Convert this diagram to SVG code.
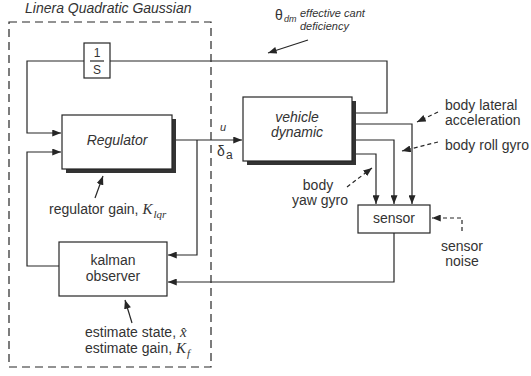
<svg xmlns="http://www.w3.org/2000/svg" width="531" height="376" viewBox="0 0 531 376">
<defs>
<style>
.ln{fill:none;stroke:#262626;stroke-width:1.2}
.ds{fill:none;stroke:#262626;stroke-width:1.2;stroke-dasharray:4 3}
.box{fill:#fff;stroke:#262626;stroke-width:1.2}
.sh{fill:#333;stroke:none}
.t{font-family:"Liberation Sans",Arial,sans-serif;font-size:14px;fill:#333}
.it{font-style:italic}
.c{text-anchor:middle}
.m{font-family:"Liberation Serif","Times New Roman",serif;font-style:italic;fill:#333}
</style>
<marker id="ar" viewBox="0 0 10 8" refX="10" refY="4" markerWidth="9" markerHeight="7" markerUnits="userSpaceOnUse" orient="auto">
<path d="M0,0 L10,4 L0,8 z" fill="#262626"/>
</marker>
</defs>
<rect width="531" height="376" fill="#fff"/>

<g id="lqg-boundary">
<rect x="9" y="22" width="202" height="345" fill="none" stroke="#262626" stroke-width="1.2" stroke-dasharray="8 5"/>
<text class="t it" x="25" y="13">Linera Quadratic Gaussian</text>
</g>

<g id="connectors">
<polyline class="ln" points="356,113 387,113 387,61 27,61 27,133 61,133" marker-end="url(#ar)"/>
<polyline class="ln" points="59,266 27,266 27,152 61,152" marker-end="url(#ar)"/>
<line class="ln" x1="176" y1="140" x2="242" y2="140" marker-end="url(#ar)"/>
<polyline class="ln" points="197,140 197,255 168,255" marker-end="url(#ar)"/>
<polyline class="ln" points="356,124 412,124 412,204" marker-end="url(#ar)"/>
<polyline class="ln" points="356,140 394,140 394,204" marker-end="url(#ar)"/>
<polyline class="ln" points="356,154 376,154 376,204" marker-end="url(#ar)"/>
<polyline class="ln" points="394,233 394,282 168,282" marker-end="url(#ar)"/>
<polyline class="ds" points="462,231 462,218 432,218" marker-end="url(#ar)"/>
<line class="ln" x1="308" y1="40" x2="268" y2="53" marker-end="url(#ar)"/>
<line class="ds" x1="438" y1="112" x2="417" y2="122" marker-end="url(#ar)"/>
<line class="ds" x1="438" y1="142" x2="402" y2="151" marker-end="url(#ar)"/>
<line class="ds" x1="347" y1="187" x2="372" y2="168" marker-end="url(#ar)"/>
<line class="ln" x1="95" y1="198" x2="103" y2="176" marker-end="url(#ar)"/>
<line class="ln" x1="132" y1="323" x2="125" y2="300" marker-end="url(#ar)"/>
</g>

<g id="integrator">
<rect class="box" x="84" y="43" width="26" height="35"/>
<text class="t c" x="97" y="57" style="font-size:12px">1</text>
<line class="ln" x1="90" y1="61" x2="104" y2="61"/>
<text class="t c" x="97" y="74" style="font-size:12px">S</text>
</g>

<g id="regulator">
<rect class="sh" x="66" y="119" width="110" height="54"/>
<rect class="box" x="62" y="115" width="110" height="54"/>
<text class="t it c" x="117" y="145">Regulator</text>
</g>

<g id="kalman">
<rect class="box" x="59" y="242" width="108" height="54"/>
<text class="t c" x="113" y="265">kalman</text>
<text class="t c" x="113" y="281">observer</text>
</g>

<g id="vehicle">
<rect class="sh" x="247" y="101" width="109" height="64"/>
<rect class="box" x="243" y="97" width="109" height="64"/>
<text class="t it c" x="297" y="122">vehicle</text>
<text class="t it c" x="297" y="137">dynamic</text>
</g>

<g id="sensor">
<rect class="box" x="358" y="205" width="72" height="28"/>
<text class="t c" x="394" y="223">sensor</text>
</g>

<g id="labels">
<text class="t it" x="220" y="131" style="font-size:11px">u</text>
<text class="t" x="217" y="156" style="font-size:14px">δ</text>
<text class="t" x="226" y="159" style="font-size:12px">a</text>

<text class="t" x="275" y="20" style="font-size:14px">θ</text>
<text class="t it" x="284" y="22" style="font-size:9px">dm</text>
<text class="t it" x="300" y="17" style="font-size:11px">effective cant</text>
<text class="t it" x="300" y="30" style="font-size:11px">deficiency</text>

<text class="t" x="445" y="110">body lateral</text>
<text class="t" x="445" y="125">acceleration</text>
<text class="t" x="445" y="150">body roll gyro</text>
<text class="t c" x="318" y="190">body</text>
<text class="t c" x="320" y="205">yaw gyro</text>
<text class="t c" x="462" y="251">sensor</text>
<text class="t c" x="462" y="266">noise</text>

<text class="t" x="49" y="214">regulator gain, <tspan class="m" style="font-size:15px">K</tspan><tspan class="m" dy="4" dx="1" style="font-size:11px">lqr</tspan></text>

<text class="t" x="85" y="337">estimate state, <tspan class="m" style="font-size:15px">x̂</tspan></text>
<text class="t" x="85" y="353">estimate gain, <tspan class="m" style="font-size:15px">K</tspan><tspan class="m" dy="4" dx="1" style="font-size:11px">f</tspan></text>
</g>
</svg>
